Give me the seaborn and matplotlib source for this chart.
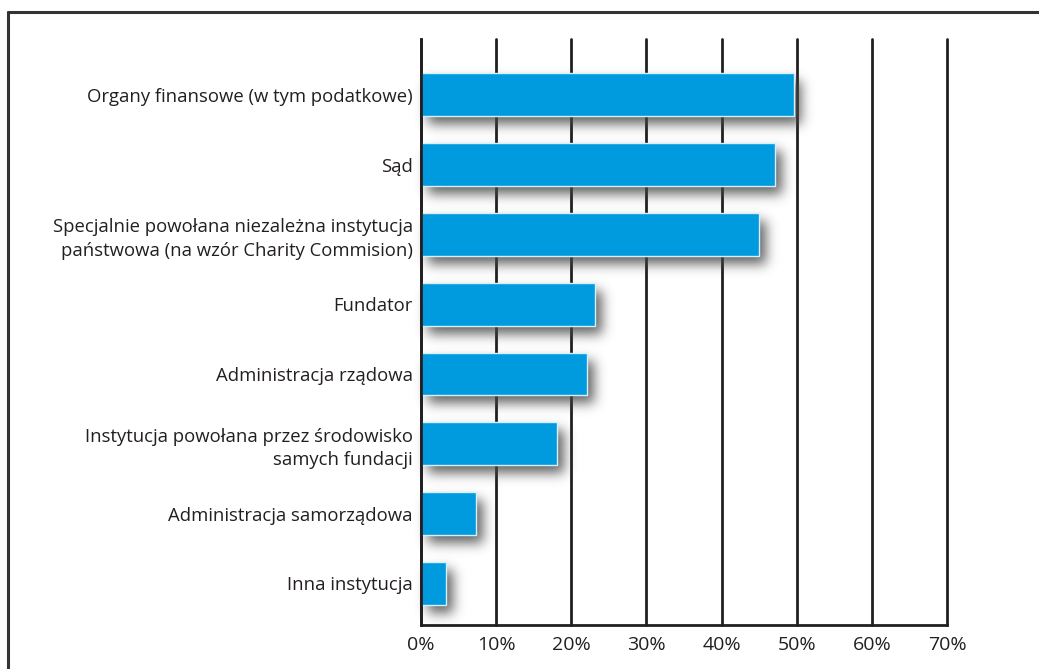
import numpy as np
import pandas as pd
import matplotlib
matplotlib.use("Agg")
import matplotlib.pyplot as plt
from matplotlib.lines import Line2D
from matplotlib.ticker import FuncFormatter
import seaborn as sns

# Survey answers: which body should supervise foundations (share of respondents, %)
institutions = [
    "Organy finansowe (w tym podatkowe)",
    "Sąd",
    "Specjalnie powołana niezależna instytucja\npaństwowa (na wzór Charity Commision)",
    "Fundator",
    "Administracja rządowa",
    "Instytucja powołana przez środowisko\nsamych fundacji",
    "Administracja samorządowa",
    "Inna instytucja",
]
shares = [49.7, 47.1, 45.0, 23.1, 22.1, 18.1, 7.3, 3.3]
x_ticks = [0, 10, 20, 30, 40, 50, 60, 70]

df = pd.DataFrame({"instytucja": institutions, "udzial": shares})

BAR_BLUE = "#009ade"
INK = "#231f20"


def gaussian_kernel(sigma):
    r = int(3 * sigma)
    x = np.arange(-r, r + 1)
    k = np.exp(-0.5 * (x / sigma) ** 2)
    return k / k.sum(), r


def blur(a, sigma):
    k, r = gaussian_kernel(sigma)
    out = np.zeros_like(a)
    padded = np.pad(a, ((r, r), (0, 0)), mode="constant")
    for i, w in enumerate(k):
        out += w * padded[i:i + a.shape[0], :]
    padded = np.pad(out, ((0, 0), (r, r)), mode="constant")
    out2 = np.zeros_like(a)
    for i, w in enumerate(k):
        out2 += w * padded[:, i:i + a.shape[1]]
    return out2


def drop_shadow(im, dpi, dx=7, dy=8, sigma=6.0, color=(0.28, 0.28, 0.28), strength=0.85):
    im = np.asarray(im, dtype=float)
    if im.max() > 1.0:
        im = im / 255.0
    pad = int(3 * sigma) + max(dx, dy) + 2
    src = np.pad(im, ((pad, pad), (pad, pad), (0, 0)), mode="constant")
    alpha = blur(src[:, :, 3], sigma)
    alpha = np.roll(alpha, dx, axis=1)
    alpha = np.roll(alpha, dy, axis=0)
    out = np.zeros_like(src)
    out[:, :, 0] = color[0]
    out[:, :, 1] = color[1]
    out[:, :, 2] = color[2]
    out[:, :, 3] = np.clip(alpha * strength, 0, 1)
    return out, -pad, -pad


sns.set_style("white")
plt.rcParams["font.family"] = ["Open Sans", "DejaVu Sans"]

fig = plt.figure(figsize=(10.39, 6.69), dpi=100)
ax = fig.add_axes([421 / 1039, 1 - 625.3 / 669, (947 - 421) / 1039, (625.3 - 39) / 669])

# shadow layer, then the bars themselves
sns.barplot(data=df, x="udzial", y="instytucja", orient="h", color="#333333",
            width=0.615, saturation=1, ax=ax, linewidth=0)
n_shadow = len(ax.patches)
for p in ax.patches[:n_shadow]:
    p.set_agg_filter(drop_shadow)
    p.set_rasterized(True)
    p.set_zorder(1.2)

sns.barplot(data=df, x="udzial", y="instytucja", orient="h", color=BAR_BLUE,
            width=0.615, saturation=1, ax=ax, edgecolor="#d6f0fb", linewidth=1.0)
for p in ax.patches[n_shadow:]:
    p.set_zorder(1.5)

ax.set_xlim(0, 70)
ax.set_ylim(7.60, -0.80)
ax.set_xticks(x_ticks)
ax.xaxis.set_major_formatter(FuncFormatter(lambda v, _: f"{v:.0f}%"))

ax.grid(axis="x", color=INK, linewidth=2.0)
ax.grid(axis="y", visible=False)
ax.set_axisbelow(True)
for gl in ax.get_xgridlines():
    gl.set_clip_on(False)

for side in ["top", "right"]:
    ax.spines[side].set_visible(False)
for side in ["left", "bottom"]:
    ax.spines[side].set_visible(True)
    ax.spines[side].set_color(INK)
    ax.spines[side].set_linewidth(2.0)
    ax.spines[side].set_zorder(2.5)

ax.set_xlabel("")
ax.set_ylabel("")
ax.tick_params(axis="both", length=0, colors=INK)
ax.tick_params(axis="x", labelsize=14, pad=8)
ax.tick_params(axis="y", labelsize=13.3, pad=6)
for lbl in ax.get_yticklabels():
    lbl.set_horizontalalignment("right")
    lbl.set_multialignment("right")
    lbl.set_linespacing(1.4)

# outer frame (left and top edges of the panel)
fig.add_artist(Line2D([8 / 1039, 8 / 1039], [0, 1 - 12 / 669], transform=fig.transFigure,
                      color="#333333", linewidth=2.2))
fig.add_artist(Line2D([8 / 1039, 1], [1 - 12 / 669, 1 - 12 / 669], transform=fig.transFigure,
                      color="#333333", linewidth=2.2))

fig.savefig("out.png", dpi=100)
